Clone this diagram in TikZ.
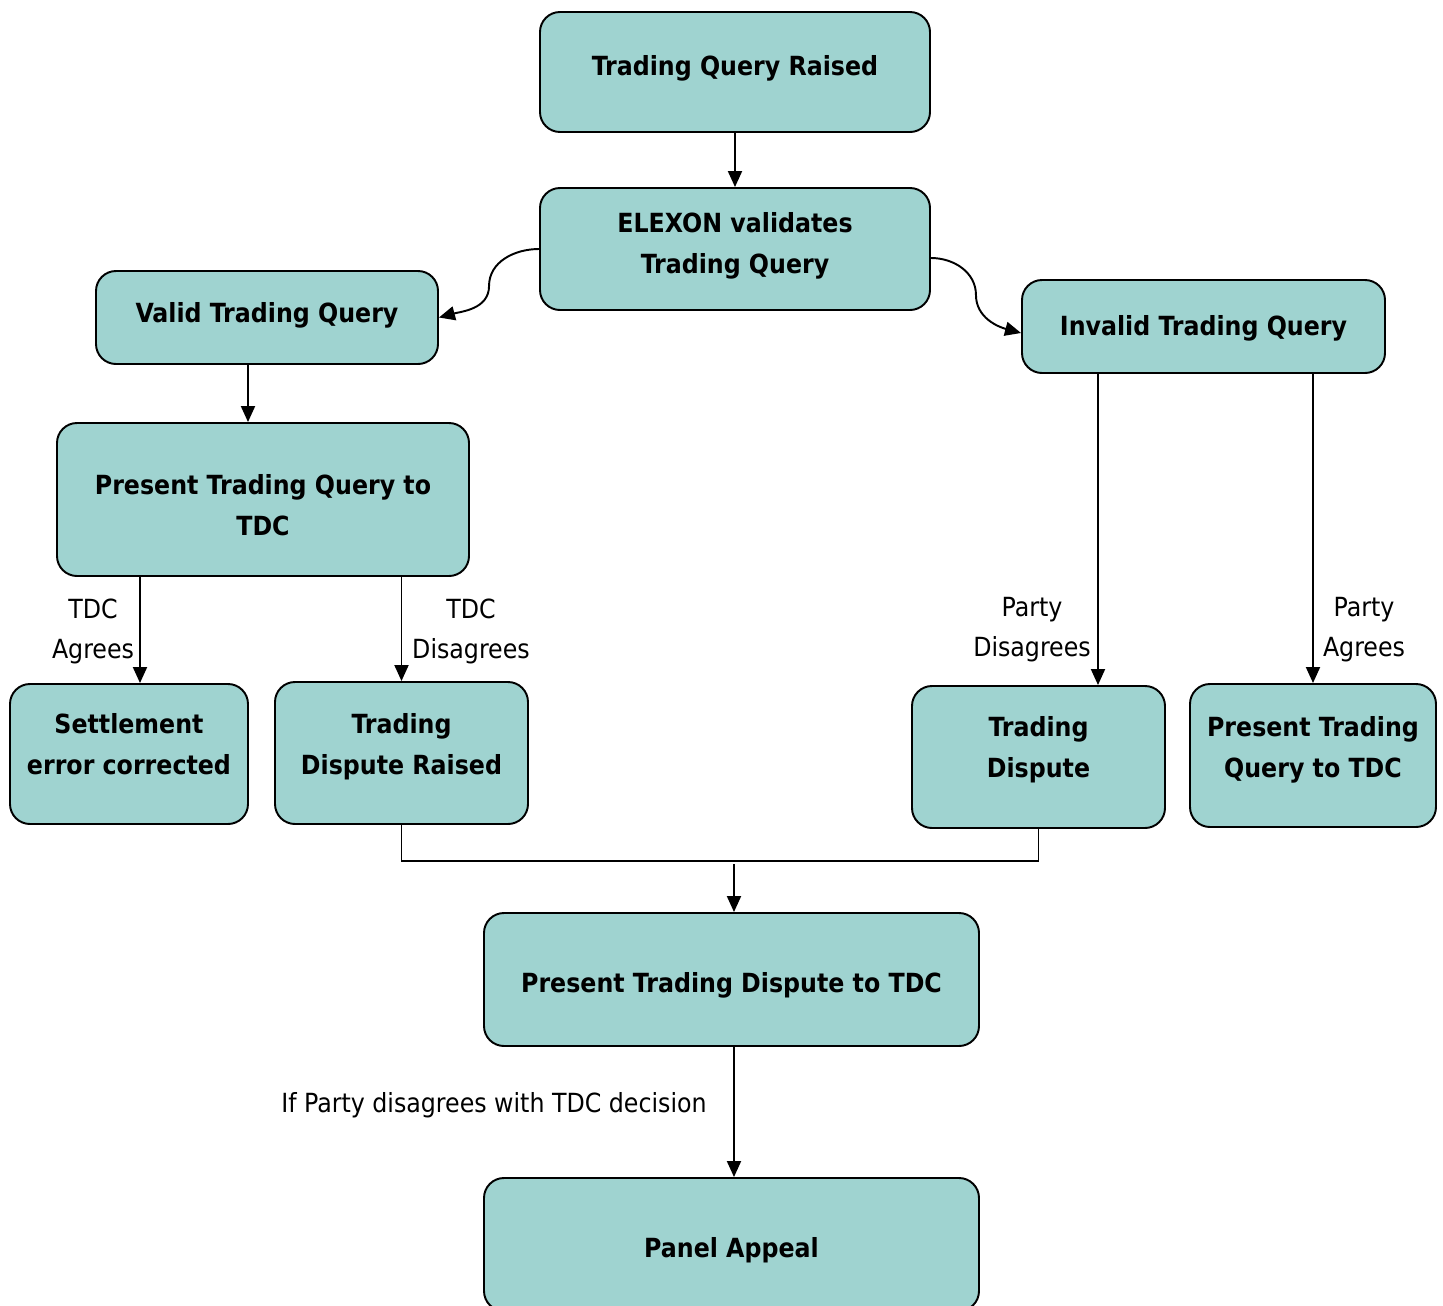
\documentclass[tikz,border=0pt]{standalone}
\usepackage{fontspec}
\setmainfont{DejaVu Sans Condensed}
\usepackage{tikz}
\usetikzlibrary{positioning,calc,arrows.meta}
\definecolor{boxfill}{RGB}{159,211,208}
\tikzset{
  stepbox/.style={draw, line width=1.1pt, fill=boxfill, rounded corners=0.4cm,
    align=center, font=\fontsize{15}{22.8}\selectfont\bfseries, inner sep=0pt, text depth=0pt},
  arr/.style={-{Triangle[length=0.32cm,width=0.28cm]}, line width=1.1pt},
  lbl/.style={align=center, font=\fontsize{15}{22.8}\selectfont}
}
\begin{document}
\begin{tikzpicture}[x=0.2mm,y=0.2mm]
    \useasboundingbox (0,0) rectangle (1443,-1306);
    % boxes
    \node[stepbox, minimum width=7.8cm, minimum height=2.4cm, text height=0.12cm] (raised) at (735,-72) {Trading Query Raised};
    \node[stepbox, minimum width=7.8cm, minimum height=2.44cm, text height=0.96cm] (validate) at (735,-249) {ELEXON validates\\Trading Query};
    \node[stepbox, minimum width=6.84cm, minimum height=1.86cm, text height=0.18cm] (valid) at (267,-317.5) {Valid Trading Query};
    \node[stepbox, minimum width=7.26cm, minimum height=1.86cm, text height=0.34cm] (invalid) at (1203.5,-326.5) {Invalid Trading Query};
    \node[stepbox, minimum width=8.24cm, minimum height=3.06cm, text height=1.42cm] (presentq) at (263,-499.5) {Present Trading Query to\\TDC};
    \node[stepbox, minimum width=4.76cm, minimum height=2.8cm, text height=0.8cm] (settle) at (129,-754) {Settlement\\error corrected};
    \node[stepbox, minimum width=5.06cm, minimum height=2.84cm, text height=0.84cm] (raisedd) at (401.5,-753) {Trading\\Dispute Raised};
    \node[stepbox, minimum width=5.06cm, minimum height=2.84cm, text height=0.8cm] (dispute) at (1038.5,-757) {Trading\\Dispute};
    \node[stepbox, minimum width=4.92cm, minimum height=2.86cm, text height=0.86cm] (presentq2) at (1313,-755.5) {Present Trading\\Query to TDC};
    \node[stepbox, minimum width=9.9cm, minimum height=2.66cm, text height=0.5cm] (presentd) at (731.5,-979.5) {Present Trading Dispute to TDC};
    \node[stepbox, minimum width=9.9cm, minimum height=2.66cm, text height=0.5cm] (appeal) at (731.5,-1244.5) {Panel Appeal};
    % labels
    \node[lbl] (tdcagree) at (93,-631) {TDC\\Agrees};
    \node[lbl] (tdcdis) at (471,-631) {TDC\\Disagrees};
    \node[lbl] (partydis) at (1032,-630) {Party\\Disagrees};
    \node[lbl] (partyagree) at (1364,-630) {Party\\Agrees};
    \node[lbl] (ifparty) at (494,-1105) {If Party disagrees with TDC decision};
    % connectors
    \draw[arr] (raised) -- (validate);
    \draw[arr] (validate.west) to[out=180,in=90] ++(-50,-37) to[out=-90,in=15] (valid.east);
    \draw[arr] ([yshift=-0.18cm]validate.east) to[out=0,in=90] ++(45,-37) to[out=-90,in=165] ([yshift=-0.13cm]invalid.west);
    \draw[arr] ([xshift=-0.38cm]valid.south) coordinate (v1) -- (v1 |- presentq.north);
    \draw[arr] ([xshift=0.22cm]settle.north |- presentq.south) -- ([xshift=0.22cm]settle.north);
    \draw[arr] (raisedd.north |- presentq.south) -- (raisedd.north);
    \draw[arr] ([xshift=1.19cm]dispute.north |- invalid.south) -- ([xshift=1.19cm]dispute.north);
    \draw[arr] (presentq2.north |- invalid.south) -- (presentq2.north);
    \coordinate (join) at (734,-861);
    \draw[line width=0.7pt] (raisedd.south) |- (join) -| (dispute.south);
    \draw[arr] ([yshift=-0.06cm]join) -- (join |- presentd.north);
    \draw[arr] (presentd.south -| join) -- (appeal.north -| join);
\end{tikzpicture}
\end{document}
